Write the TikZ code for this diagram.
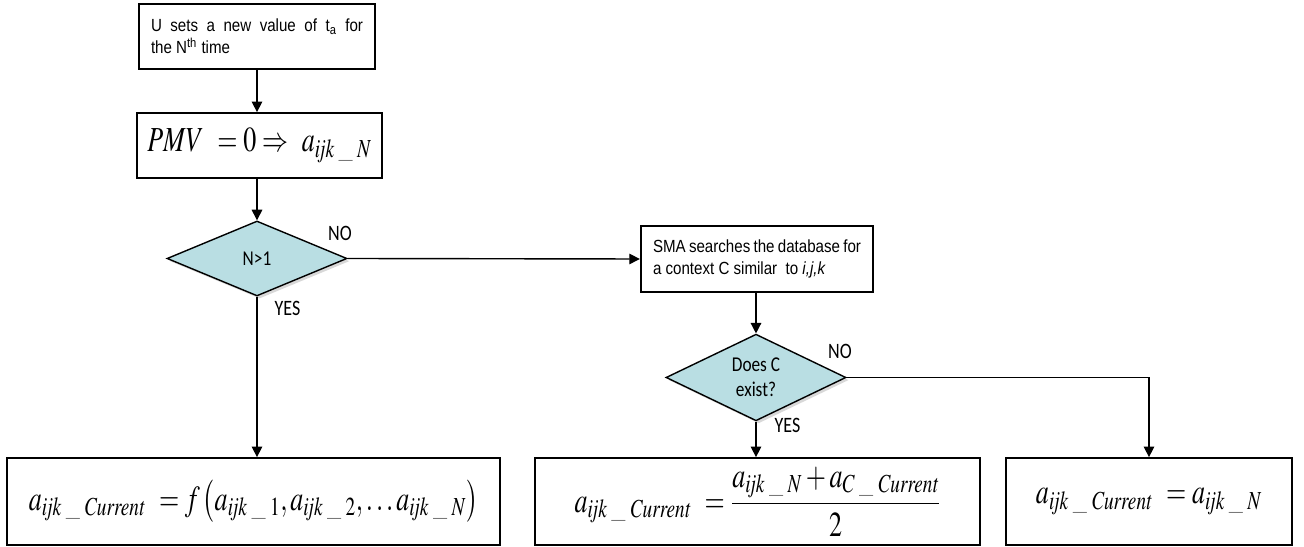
\documentclass[tikz,border=0pt]{standalone}
\usepackage{amsmath}
\usepackage{graphicx}
\usepackage{mathptmx}
\usepackage[no-math]{fontspec}
\newfontfamily\arialfont{Liberation Sans}[FakeStretch=0.86]
\newfontfamily\calfont{Carlito}[FakeStretch=0.82]
\usetikzlibrary{shapes.geometric,arrows.meta,shadows}
\definecolor{decfill}{RGB}{185,222,227}
\newcommand{\narrowmath}[1]{\scalebox{0.74}[1]{$\displaystyle #1$}}
\newcommand{\aijk}[1]{a_{\mathit{ijk}\;\_\;#1}}

\begin{document}
\begin{tikzpicture}[
    box/.style={draw, line width=1pt, inner sep=0pt},
    textbox/.style={box, font=\arialfont\fontsize{10}{12.5}\selectfont, align=justify, inner xsep=7pt},
    mathbox/.style={box, font=\fontsize{20}{24}\selectfont},
    decision/.style={diamond, draw, line width=0.8pt, fill=decfill, inner sep=0pt,
        minimum width=3.6cm, minimum height=1.5cm, font=\calfont\fontsize{12}{14}\selectfont, align=center,
        drop shadow={shadow xshift=1.5pt, shadow yshift=-1.5pt, fill=black!30, opacity=0.5}},
    answer/.style={font=\calfont\fontsize{12.5}{14}\selectfont},
    arr/.style={-{Triangle[length=6pt,width=6pt]}, line width=0.8pt}
]
    \useasboundingbox (0,0) rectangle (26.08,10.94);

    % first column
    \node[textbox, minimum height=1.3cm, text width=4.24cm] (start) at (5.14,10.21)
        {U sets a new value of t\textsubscript{a} for\linebreak the N\textsuperscript{th} time};
    \node[mathbox, minimum width=4.9cm, minimum height=1.3cm] (pmv) at (5.19,8.03)
        {\narrowmath{PMV\ =0\Rightarrow\ \aijk{N}}};
    \node[decision] (first) at (5.14,5.77) {N>1};
    \node[mathbox, minimum width=9.86cm, minimum height=1.74cm] (all) at (5.07,0.91)
        {\narrowmath{\aijk{\mathit{Current}}\ = f\left(\aijk{1}, \aijk{2}, \ldots \aijk{N}\right)}};

    % second column
    \node[textbox, minimum height=1.32cm, text width=4.16cm] (search) at (15.14,5.76)
        {SMA searches the database for\linebreak a context C similar\ \ to \textit{i,j,k}};
    \node[decision] (exists) at (15.12,3.39) {Does C\\exist?};
    \node[mathbox, minimum width=8.9cm, minimum height=1.74cm] (mean) at (15.15,0.91)
        {\narrowmath{\aijk{\mathit{Current}}\ = \frac{\aijk{N} + a_{C\;\_\;\mathit{Current}}}{2}}};

    % third column
    \node[mathbox, minimum width=5.72cm, minimum height=1.74cm] (keep) at (22.98,0.91)
        {\narrowmath{\aijk{\mathit{Current}}\ = \aijk{N}}};

    % connectors
    \draw[arr] (start.south -| first) -- (pmv.north -| first);
    \draw[arr] (pmv.south -| first) -- (first.north);
    \draw[arr] (first.south) -- (all.north -| first);
    \draw[arr] (first.east) -- (search.west);
    \draw[arr] (search.south -| exists) -- (exists.north);
    \draw[arr] (exists.south) -- (mean.north -| exists);
    \draw[arr] (exists.east) -| (keep.north);

    % answers
    \node[answer] (no1) at (6.80,6.28) {NO};
    \node[answer] (yes1) at (5.75,4.77) {YES};
    \node[answer] (no2) at (16.80,3.91) {NO};
    \node[answer] (yes2) at (15.75,2.44) {YES};
\end{tikzpicture}
\end{document}
